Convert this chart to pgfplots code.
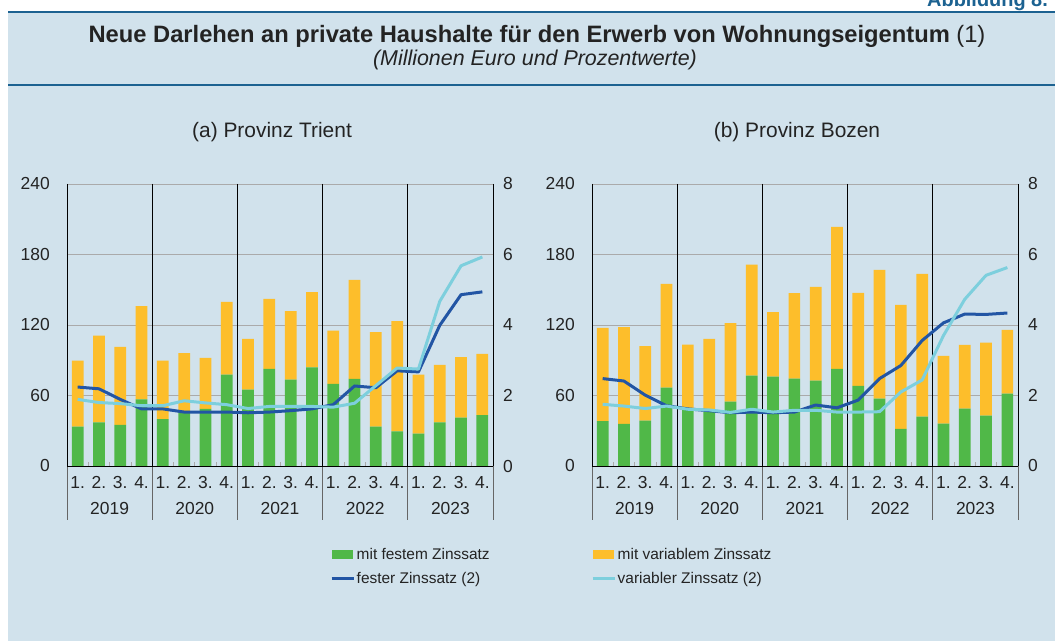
\documentclass[border=0pt]{standalone}
\usepackage{fontspec}
\setmainfont{Liberation Sans}
\usepackage{pgfplots}
\usepackage{pgfplotstable}
\pgfplotsset{compat=1.18}
\definecolor{bg}{RGB}{209,226,236}
\definecolor{hdr}{RGB}{28,98,145}
\definecolor{gr}{RGB}{80,184,72}
\definecolor{ye}{RGB}{253,190,43}
\definecolor{dkb}{RGB}{34,85,164}
\definecolor{ltb}{RGB}{125,207,221}
\definecolor{gridc}{RGB}{170,170,170}
\definecolor{txt}{RGB}{35,35,35}

\pgfplotstableread{
x fix var rfix rvar
0 33.5 56.2 2.24 1.89
1 37.2 73.8 2.19 1.80
2 34.9 66.5 1.89 1.77
3 56.8 79.2 1.62 1.71
4 39.8 49.9 1.62 1.71
5 47.0 49.0 1.53 1.85
6 48.6 43.4 1.53 1.79
7 77.8 61.9 1.53 1.74
8 65.0 43.2 1.51 1.63
9 82.6 59.7 1.53 1.69
10 73.6 58.2 1.57 1.69
11 84.0 64.0 1.62 1.69
12 69.9 45.4 1.74 1.67
13 74.1 84.4 2.27 1.78
14 33.5 80.4 2.22 2.28
15 29.5 93.8 2.70 2.78
16 27.5 50.3 2.67 2.75
17 37.2 48.8 3.99 4.67
18 41.2 51.4 4.86 5.68
19 43.2 52.2 4.94 5.93
}\trient

\pgfplotstableread{
x fix var rfix rvar
0 38.1 79.5 2.48 1.75
1 35.8 82.3 2.41 1.70
2 38.6 63.4 2.01 1.63
3 66.8 88.2 1.71 1.70
4 48.0 55.4 1.62 1.61
5 47.0 61.2 1.57 1.59
6 54.8 66.8 1.51 1.52
7 77.0 94.3 1.53 1.61
8 76.1 54.9 1.51 1.53
9 74.4 72.7 1.53 1.58
10 72.7 79.8 1.73 1.58
11 82.6 121.0 1.65 1.53
12 68.2 79.2 1.87 1.53
13 57.4 109.6 2.48 1.54
14 31.5 105.7 2.85 2.10
15 42.0 121.6 3.56 2.44
16 36.1 57.6 4.06 3.70
17 48.8 54.3 4.31 4.73
18 42.9 62.2 4.30 5.41
19 61.6 54.3 4.34 5.63
}\bozen

\pgfplotsset{
  base/.style={scale only axis, width=426bp, height=282bp, xmin=-0.5, xmax=19.5,
    anchor=south west, clip=false,
    ticklabel style={font=\fontsize{17.5}{20}\selectfont, text=txt},
    /pgf/number format/assume math mode=true},
  baraxis/.style={base, ymin=0, ymax=240, ytick={0,60,120,180,240},
    ymajorgrids, grid style={color=gridc, line width=0.9bp},
    ybar stacked, bar width=0.55,
    axis line style={draw=none}, major tick length=0pt,
    xtick={0,...,19},
    xticklabels={1.,2.,3.,4.,1.,2.,3.,4.,1.,2.,3.,4.,1.,2.,3.,4.,1.,2.,3.,4.},
    minor xtick={0.5,1.5,2.5,4.5,5.5,6.5,8.5,9.5,10.5,12.5,13.5,14.5,16.5,17.5,18.5},
    minor tick length=4bp, minor x tick style={gridc, line width=0.7bp},
    xtick pos=bottom, ytick pos=left,
    yticklabel style={anchor=east, inner sep=0pt, xshift=-17bp},
    xticklabel style={anchor=north, inner sep=0pt, yshift=-10bp}},
  lineaxis/.style={base, ymin=0, ymax=8, ytick={0,2,4,6,8},
    axis y line*=right, axis x line=none, axis line style={draw=none},
    major tick length=0pt,
    yticklabel style={anchor=west, inner sep=0pt, xshift=10bp}},
  lineplot/.style={line width=3bp, line join=round, no markers,
    legend image code/.code={\draw[##1] (0bp,0bp) -- (22bp,0bp);}},
}

\newcommand{\sep}[1]{%
  \draw[black, line width=0.9bp] (axis cs:#1,240) -- (axis cs:#1,0);
  \draw[gray!80!black, line width=0.9bp] (axis cs:#1,0) -- ([yshift=-54bp]axis cs:#1,0);}
\newcommand{\yr}[2]{%
  \node[font=\fontsize{17.5}{20}\selectfont, text=txt] at ([yshift=-43bp]axis cs:#1,0) {#2};}
\newcommand{\frameaxis}{%
  \draw[black, line width=0.9bp] (axis cs:-0.5,0) -- (axis cs:19.5,0);
  \sep{-0.5}\sep{3.5}\sep{7.5}\sep{11.5}\sep{15.5}\sep{19.5}
  \yr{1.5}{2019}\yr{5.5}{2020}\yr{9.5}{2021}\yr{13.5}{2022}\yr{17.5}{2023}}

\begin{document}
\begin{tikzpicture}
\path[use as bounding box] (0,0) rectangle (1055bp,641bp);
\clip (0,0) rectangle (1055bp,641bp);
\fill[white] (0,0) rectangle (1055bp,641bp);
\fill[bg] (8bp,0) rectangle (1055bp,629bp);
\draw[hdr, line width=2.5bp] (8bp,629bp) -- (1055bp,629bp);
\draw[hdr, line width=1.5bp] (8bp,556bp) -- (1055bp,556bp);
\node[anchor=base west, font=\fontsize{20}{24}\selectfont\bfseries, text=hdr, inner sep=0pt] at (927bp,634bp) {Abbildung 8.};
\node[anchor=base, font=\fontsize{23.8}{27}\selectfont, text=txt] at (537bp,598bp) {\textbf{Neue Darlehen an private Haushalte für den Erwerb von Wohnungseigentum} (1)};
\node[anchor=base, font=\fontsize{21.5}{24}\selectfont\itshape, text=txt] at (535bp,575bp) {(Millionen Euro und Prozentwerte)};
\node[anchor=base, font=\fontsize{21}{24}\selectfont, text=txt] at (272bp,503bp) {(a) Provinz Trient};
\node[anchor=base, font=\fontsize{21}{24}\selectfont, text=txt] at (797bp,503bp) {(b) Provinz Bozen};

% ---------- (a) Trient ----------
\begin{axis}[baraxis, at={(67bp,175bp)}]
\addplot[fill=gr, draw=none] table[x=x, y=fix] {\trient};
\addplot[fill=ye, draw=none] table[x=x, y=var] {\trient};
\frameaxis
\end{axis}
\begin{axis}[lineaxis, at={(67bp,175bp)},
  legend columns=2,
  legend style={at={(axis description cs:0.6174,-0.286)}, anchor=north west,
    draw=none, fill=none, inner sep=0pt, row sep=10bp,
    /tikz/column 2/.style={column sep=100bp},
    nodes={inner xsep=1.5bp, inner ysep=1bp, text=txt, font=\fontsize{15.5}{18}\selectfont},
    cells={anchor=west}}]
\addlegendimage{legend image code/.code={\fill[gr] (0bp,-4bp) rectangle (20bp,4bp);}}
\addlegendentry{mit festem Zinssatz}
\addlegendimage{legend image code/.code={\fill[ye] (0bp,-4bp) rectangle (20bp,4bp);}}
\addlegendentry{mit variablem Zinssatz}
\addplot[lineplot, dkb] table[x=x, y=rfix] {\trient};
\addlegendentry{fester Zinssatz (2)}
\addplot[lineplot, ltb] table[x=x, y=rvar] {\trient};
\addlegendentry{variabler Zinssatz (2)}
\end{axis}

% ---------- (b) Bozen ----------
\begin{axis}[baraxis, at={(592bp,175bp)}]
\addplot[fill=gr, draw=none] table[x=x, y=fix] {\bozen};
\addplot[fill=ye, draw=none] table[x=x, y=var] {\bozen};
\frameaxis
\end{axis}
\begin{axis}[lineaxis, at={(592bp,175bp)}]
\addplot[lineplot, dkb] table[x=x, y=rfix] {\bozen};
\addplot[lineplot, ltb] table[x=x, y=rvar] {\bozen};
\end{axis}
\end{tikzpicture}
\end{document}
